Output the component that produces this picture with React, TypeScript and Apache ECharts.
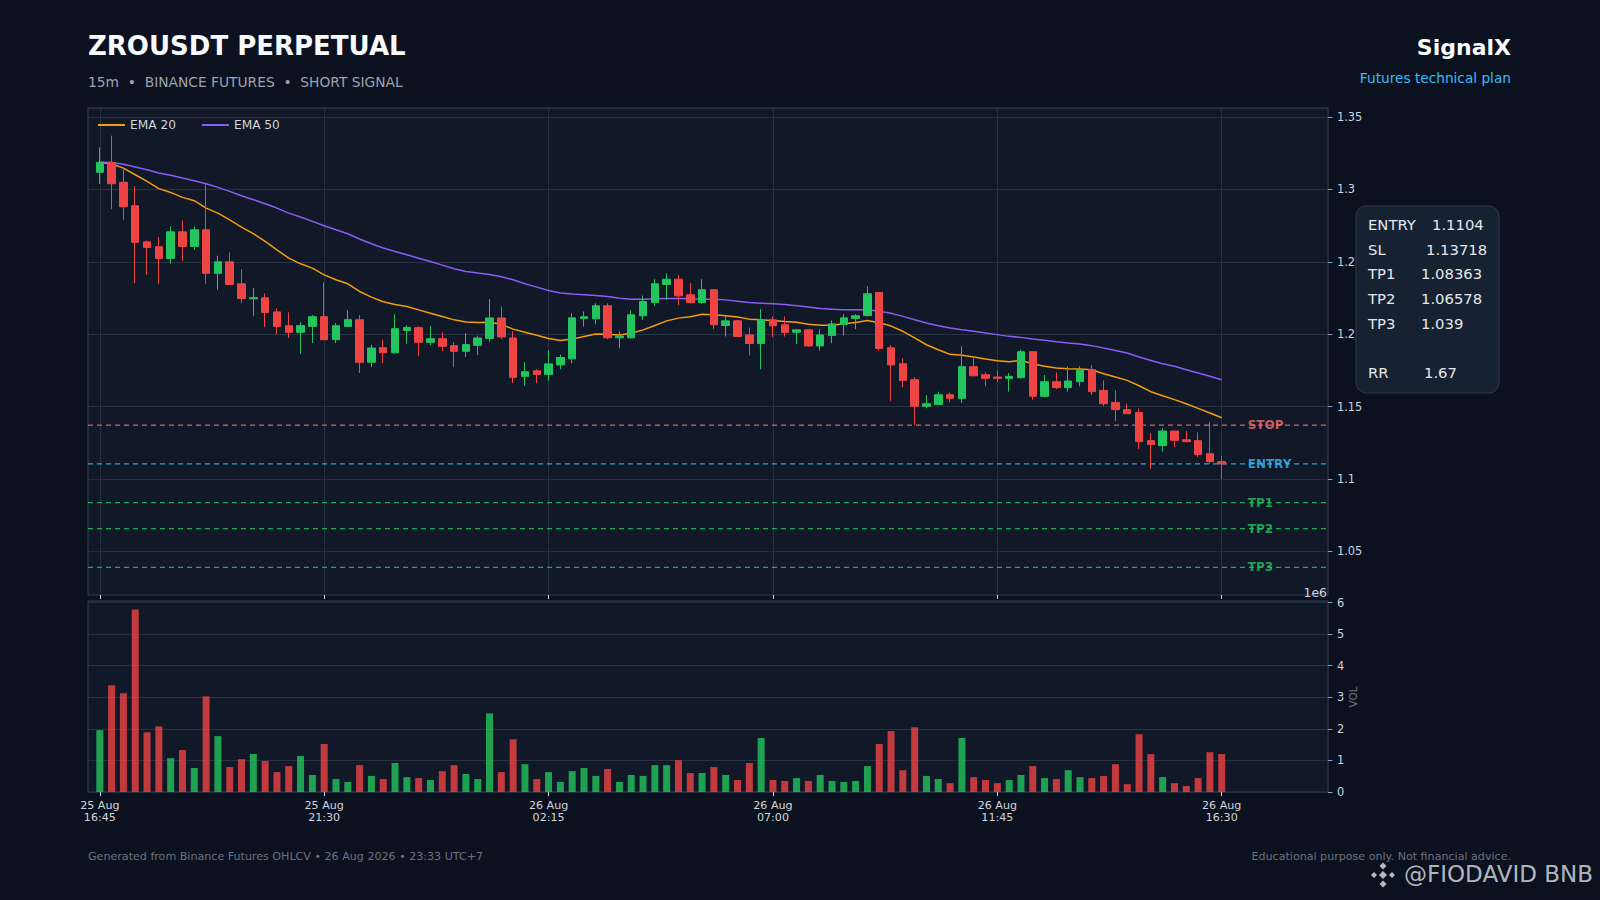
import React, { useEffect, useRef } from "react";
import * as echarts from "echarts";

const FONT = "DejaVu Sans, Verdana, sans-serif";
const BG = "#0b111e";
const PANEL = "#111827";
const BORDER = "#334155";
const GRIDC = "#263142";
const TICKC = "#cbd5e1";
const LABELC = "#cbd5e1";
const UP = "#22c55e";
const DOWN = "#ef4444";

// OHLC per 15m candle (index 0 = 25 Aug 16:45)
const opens = [
  1.3118, 1.3187, 1.3049, 1.2887, 1.2638, 1.2604, 1.2523, 1.2707, 1.2606, 1.2721,
  1.2420, 1.2500, 1.2348, 1.2244, 1.2251, 1.2154, 1.2059, 1.2013, 1.2054, 1.2121,
  1.1962, 1.2054, 1.2100, 1.1806, 1.1907, 1.1872, 1.2026, 1.2045, 1.1944, 1.1969,
  1.1921, 1.1882, 1.1923, 1.1971, 1.2112, 1.1974, 1.1709, 1.1747, 1.1721, 1.1788,
  1.1830, 1.2108, 1.2106, 1.2196, 1.1975, 1.1975, 1.2127, 1.2219, 1.2343, 1.2380,
  1.2272, 1.2219, 1.2307, 1.2060, 1.2092, 1.1995, 1.1936, 1.2099, 1.2065, 1.2014,
  1.2030, 1.1919, 1.1991, 1.2067, 1.2108, 1.2129, 1.2288, 1.1906, 1.1796, 1.1686,
  1.1502, 1.1515, 1.1582, 1.1557, 1.1776, 1.1720, 1.1704, 1.1695, 1.1700, 1.1879,
  1.1571, 1.1672, 1.1631, 1.1672, 1.1755, 1.1612, 1.1529, 1.1479, 1.1460, 1.1265,
  1.1230, 1.1331, 1.1271, 1.1265, 1.1175, 1.1120,
];
const closes = [
  1.3187, 1.3039, 1.2880, 1.2634, 1.2599, 1.2523, 1.2707, 1.2606, 1.2721, 1.2420,
  1.2500, 1.2343, 1.2247, 1.2253, 1.2150, 1.2053, 1.2013, 1.2059, 1.2121, 1.1962,
  1.2059, 1.2100, 1.1806, 1.1905, 1.1872, 1.2038, 1.2047, 1.1944, 1.1969, 1.1916,
  1.1882, 1.1928, 1.1974, 1.2112, 1.1981, 1.1702, 1.1741, 1.1721, 1.1795, 1.1839,
  1.2113, 1.2120, 1.2196, 1.1975, 1.1986, 1.2134, 1.2226, 1.2348, 1.2380, 1.2265,
  1.2219, 1.2307, 1.2065, 1.2092, 1.1984, 1.1936, 1.2099, 1.2058, 1.2012, 1.2030,
  1.1919, 1.1995, 1.2071, 1.2113, 1.2127, 1.2279, 1.1901, 1.1788, 1.1681, 1.1502,
  1.1520, 1.1582, 1.1557, 1.1776, 1.1713, 1.1695, 1.1695, 1.1709, 1.1879, 1.1571,
  1.1672, 1.1631, 1.1677, 1.1755, 1.1603, 1.1520, 1.1479, 1.1451, 1.1258, 1.1239,
  1.1331, 1.1267, 1.1258, 1.1170, 1.1120, 1.1104,
];
const lows = [
  1.3037, 1.2864, 1.2790, 1.2353, 1.2410, 1.2348, 1.2486, 1.2505, 1.2583, 1.2348,
  1.2307, 1.2339, 1.2214, 1.2127, 1.2049, 1.2000, 1.1974, 1.1865, 1.1939, 1.1960,
  1.1939, 1.2052, 1.1732, 1.1773, 1.1801, 1.1865, 1.1934, 1.1847, 1.1925, 1.1884,
  1.1773, 1.1842, 1.1856, 1.1948, 1.1967, 1.1663, 1.1644, 1.1661, 1.1678, 1.1758,
  1.1800, 1.2053, 1.2069, 1.1966, 1.1903, 1.1970, 1.2099, 1.2196, 1.2237, 1.2201,
  1.2210, 1.2210, 1.2035, 1.1984, 1.1980, 1.1853, 1.1758, 1.1980, 1.1984, 1.1931,
  1.1915, 1.1887, 1.1938, 1.1991, 1.2035, 1.2122, 1.1885, 1.1538, 1.1635, 1.1373,
  1.1488, 1.1511, 1.1529, 1.1525, 1.1709, 1.1640, 1.1667, 1.1603, 1.1695, 1.1548,
  1.1561, 1.1621, 1.1603, 1.1640, 1.1580, 1.1502, 1.1400, 1.1449, 1.1207, 1.1069,
  1.1189, 1.1221, 1.1253, 1.1152, 1.1106, 1.1000,
];
const highs = [
  1.3290, 1.3371, 1.3147, 1.3021, 1.2647, 1.2671, 1.2744, 1.2786, 1.2744, 1.3039,
  1.2542, 1.2565, 1.2449, 1.2318, 1.2283, 1.2177, 1.2151, 1.2082, 1.2132, 1.2358,
  1.2077, 1.2165, 1.2132, 1.1928, 1.1964, 1.2137, 1.2063, 1.2054, 1.2054, 1.2013,
  1.1944, 1.2008, 1.1990, 1.2243, 1.2192, 1.2020, 1.1806, 1.1758, 1.1887, 1.1859,
  1.2145, 1.2157, 1.2214, 1.2214, 1.2019, 1.2164, 1.2267, 1.2380, 1.2421, 1.2408,
  1.2353, 1.2380, 1.2311, 1.2122, 1.2099, 1.2046, 1.2173, 1.2122, 1.2122, 1.2035,
  1.2032, 1.2035, 1.2095, 1.2138, 1.2138, 1.2330, 1.2290, 1.1926, 1.1833, 1.1704,
  1.1580, 1.1603, 1.1598, 1.1916, 1.1833, 1.1736, 1.1750, 1.1732, 1.1893, 1.1884,
  1.1718, 1.1736, 1.1778, 1.1778, 1.1787, 1.1681, 1.1612, 1.1520, 1.1488, 1.1318,
  1.1350, 1.1333, 1.1331, 1.1322, 1.1396, 1.1161,
];
// volume in millions (axis offset 1e6)
const volumes = [
  1.96, 3.38, 3.13, 5.78, 1.89, 2.08, 1.07, 1.33, 0.76, 3.03,
  1.77, 0.79, 1.04, 1.20, 0.98, 0.63, 0.82, 1.14, 0.54, 1.52,
  0.41, 0.32, 0.85, 0.51, 0.41, 0.92, 0.47, 0.44, 0.38, 0.66,
  0.85, 0.57, 0.41, 2.49, 0.63, 1.67, 0.88, 0.41, 0.63, 0.32,
  0.66, 0.76, 0.51, 0.73, 0.32, 0.54, 0.51, 0.85, 0.85, 1.01,
  0.60, 0.60, 0.79, 0.54, 0.38, 0.92, 1.71, 0.38, 0.35, 0.44,
  0.35, 0.54, 0.35, 0.32, 0.35, 0.82, 1.52, 1.93, 0.69, 2.05,
  0.51, 0.41, 0.28, 1.71, 0.47, 0.38, 0.28, 0.38, 0.54, 0.82,
  0.44, 0.41, 0.69, 0.47, 0.44, 0.51, 0.88, 0.25, 1.83, 1.20,
  0.47, 0.28, 0.19, 0.44, 1.26, 1.20,
];
const ema20 = [
  1.3186, 1.3177, 1.3147, 1.3101, 1.3055, 1.3005, 1.2979, 1.2945, 1.2922, 1.2871,
  1.2836, 1.2790, 1.2740, 1.2694, 1.2641, 1.2583, 1.2525, 1.2486, 1.2456, 1.2410,
  1.2376, 1.2348, 1.2295, 1.2256, 1.2224, 1.2205, 1.2191, 1.2168, 1.2145, 1.2122,
  1.2099, 1.2085, 1.2081, 1.2083, 1.2068, 1.2035, 1.2014, 1.1993, 1.1970, 1.1956,
  1.1966, 1.1984, 1.2002, 1.2000, 1.1995, 1.2007, 1.2030, 1.2060, 1.2092, 1.2111,
  1.2120, 1.2138, 1.2134, 1.2127, 1.2118, 1.2104, 1.2099, 1.2095, 1.2088, 1.2083,
  1.2069, 1.2062, 1.2062, 1.2072, 1.2081, 1.2095, 1.2079, 1.2056, 1.2020, 1.1974,
  1.1927, 1.1893, 1.1861, 1.1854, 1.1842, 1.1829, 1.1817, 1.1810, 1.1819, 1.1796,
  1.1778, 1.1766, 1.1762, 1.1759, 1.1755, 1.1727, 1.1704, 1.1681, 1.1644, 1.1603,
  1.1575, 1.1548, 1.1520, 1.1488, 1.1456, 1.1423,
];
const ema50 = [
  1.3187, 1.3186, 1.3173, 1.3154, 1.3136, 1.3113, 1.3097, 1.3078, 1.3060, 1.3039,
  1.3014, 1.2986, 1.2956, 1.2929, 1.2901, 1.2871, 1.2836, 1.2809, 1.2779, 1.2749,
  1.2721, 1.2694, 1.2657, 1.2625, 1.2595, 1.2571, 1.2548, 1.2525, 1.2502, 1.2477,
  1.2452, 1.2433, 1.2422, 1.2412, 1.2397, 1.2376, 1.2348, 1.2325, 1.2302, 1.2284,
  1.2277, 1.2272, 1.2267, 1.2260, 1.2249, 1.2242, 1.2242, 1.2244, 1.2247, 1.2247,
  1.2244, 1.2242, 1.2242, 1.2237, 1.2228, 1.2219, 1.2214, 1.2210, 1.2205, 1.2196,
  1.2187, 1.2177, 1.2173, 1.2168, 1.2168, 1.2168, 1.2159, 1.2144, 1.2123, 1.2100,
  1.2077, 1.2059, 1.2043, 1.2031, 1.2020, 1.2008, 1.1997, 1.1985, 1.1978, 1.1967,
  1.1958, 1.1948, 1.1939, 1.1932, 1.1921, 1.1904, 1.1888, 1.1870, 1.1842, 1.1819,
  1.1796, 1.1778, 1.1755, 1.1732, 1.1709, 1.1686,
];

const xTickIdx = [0, 19, 38, 57, 76, 95];
const xTickLabels = [
  "25 Aug\n16:45",
  "25 Aug\n21:30",
  "26 Aug\n02:15",
  "26 Aug\n07:00",
  "26 Aug\n11:45",
  "26 Aug\n16:30",
];
const priceTicks = [1.05, 1.1, 1.15, 1.2, 1.25, 1.3, 1.35];
const volTicks = [0, 1, 2, 3, 4, 5, 6];

const levelNames = ["STOP", "ENTRY", "TP1", "TP2", "TP3"];
const levelValues = [1.13718, 1.1104, 1.08363, 1.06578, 1.039];
const levelColors = ["#f87171", "#38bdf8", "#22c55e", "#22c55e", "#22c55e"];

const planLabels = ["ENTRY", "SL", "TP1", "TP2", "TP3", "RR"];
const planValues = ["1.1104", "1.13718", "1.08363", "1.06578", "1.039", "1.67"];
const planRows = [0, 1, 2, 3, 4, 6];
const planValueX = [1432, 1426, 1421, 1421, 1421, 1424];

const X_MIN = -1;
const X_MAX = 104;

export default function App() {
  const ref = useRef<HTMLDivElement>(null);

  useEffect(() => {
    if (!ref.current) return;
    const chart = echarts.init(ref.current, undefined, { renderer: "svg" });

    const n = opens.length;
    const candles = opens.map((o, i) => [i, o, closes[i], lows[i], highs[i]]);
    const volData = volumes.map((v, i) => ({
      value: [i, v],
      itemStyle: { color: closes[i] >= opens[i] ? UP : DOWN, opacity: 0.8 },
    }));
    const labelX = n + 1.2;

    const graphicEls: any[] = [
      {
        type: "text",
        x: 88,
        y: 46,
        style: {
          text: "ZROUSDT PERPETUAL",
          fill: "#f8fafc",
          font: `bold 26px ${FONT}`,
          align: "left",
          verticalAlign: "middle",
        },
      },
      {
        type: "text",
        x: 88,
        y: 81.5,
        style: {
          text: "15m  •  BINANCE FUTURES  •  SHORT SIGNAL",
          fill: "#9ca3af",
          font: `13.8px ${FONT}`,
          align: "left",
          verticalAlign: "middle",
        },
      },
      {
        type: "text",
        x: 1511,
        y: 47,
        style: {
          text: "SignalX",
          fill: "#f8fafc",
          font: `bold 22px ${FONT}`,
          align: "right",
          verticalAlign: "middle",
        },
      },
      {
        type: "text",
        x: 1511,
        y: 78,
        style: {
          text: "Futures technical plan",
          fill: "#38bdf8",
          font: `13.7px ${FONT}`,
          align: "right",
          verticalAlign: "middle",
        },
      },
      {
        type: "text",
        x: 1327,
        y: 592,
        style: {
          text: "1e6",
          fill: LABELC,
          font: `12.4px ${FONT}`,
          align: "right",
          verticalAlign: "middle",
        },
      },
      {
        type: "text",
        x: 1353,
        y: 697,
        rotation: Math.PI / 2,
        style: {
          text: "VOL",
          fill: "#6b7280",
          font: `10.4px ${FONT}`,
          align: "center",
          verticalAlign: "middle",
        },
      },
      {
        type: "text",
        x: 88,
        y: 856,
        style: {
          text: "Generated from Binance Futures OHLCV • 26 Aug 2026 • 23:33 UTC+7",
          fill: "#6b7280",
          font: `11.1px ${FONT}`,
          align: "left",
          verticalAlign: "middle",
        },
      },
      {
        type: "text",
        x: 1511,
        y: 856,
        style: {
          text: "Educational purpose only. Not financial advice.",
          fill: "#6b7280",
          font: `11.1px ${FONT}`,
          align: "right",
          verticalAlign: "middle",
        },
      },
      {
        type: "rect",
        z: 100,
        shape: { x: 1356, y: 206, width: 143, height: 187, r: 10 },
        style: { fill: "#162131", stroke: "#2e3b4e", lineWidth: 1 },
      },
    ];

    planLabels.forEach((lab, k) => {
      const y = 224.5 + planRows[k] * 24.7;
      graphicEls.push({
        type: "text",
        z: 101,
        x: 1368,
        y,
        style: {
          text: lab,
          fill: "#e5e7eb",
          font: `14.8px ${FONT}`,
          align: "left",
          verticalAlign: "middle",
        },
      });
      graphicEls.push({
        type: "text",
        z: 101,
        x: planValueX[k],
        y,
        style: {
          text: planValues[k],
          fill: "#e5e7eb",
          font: `14.8px ${FONT}`,
          align: "left",
          verticalAlign: "middle",
        },
      });
    });

    // watermark: logo + handle
    const wm = "rgba(222,226,232,0.8)";
    const diamond = (cx: number, cy: number, r: number) => ({
      type: "polygon",
      z: 110,
      shape: { points: [[cx, cy - r], [cx + r, cy], [cx, cy + r], [cx - r, cy]] },
      style: { fill: wm },
    });
    graphicEls.push(diamond(1383, 875, 4));
    graphicEls.push(diamond(1374, 875, 3));
    graphicEls.push(diamond(1392, 875, 3));
    graphicEls.push(diamond(1383, 866, 3.5));
    graphicEls.push(diamond(1383, 884, 3.5));
    graphicEls.push({
      type: "text",
      z: 110,
      x: 1404,
      y: 874,
      style: {
        text: "@FIODAVID BNB",
        fill: wm,
        font: `23px ${FONT}`,
        align: "left",
        verticalAlign: "middle",
      },
    });

    const xAxisCommon = {
      type: "value",
      min: X_MIN,
      max: X_MAX,
      axisLine: { show: false, onZero: false },
    };
    const yAxisCommon = {
      type: "value",
      position: "right",
      axisLine: { show: false, onZero: false },
    };

    const levelSeries = levelValues.map((v, i) => ({
      name: levelNames[i] + " level",
      type: "line",
      xAxisIndex: 0,
      yAxisIndex: 0,
      data: [
        [X_MIN, v],
        [X_MAX, v],
      ],
      symbol: "none",
      showSymbol: false,
      silent: true,
      lineStyle: { color: levelColors[i], type: [5, 4], width: 1.2, opacity: 0.85 },
      z: 1,
    }));

    const option: any = {
      animation: false,
      backgroundColor: BG,
      textStyle: { fontFamily: FONT },
      legend: {
        left: 93,
        top: 114,
        icon: "rect",
        itemWidth: 27,
        itemHeight: 2,
        itemGap: 26,
        data: ["EMA 20", "EMA 50"],
        textStyle: { color: "#d1d5db", fontSize: 12.2, fontFamily: FONT },
      },
      grid: [
        {
          left: 88,
          right: 272,
          top: 108,
          height: 487,
          show: true,
          backgroundColor: PANEL,
          borderColor: BORDER,
          borderWidth: 1,
        },
        {
          left: 88,
          right: 272,
          top: 601,
          height: 191,
          show: true,
          backgroundColor: PANEL,
          borderColor: BORDER,
          borderWidth: 1,
        },
      ],
      xAxis: [
        {
          ...xAxisCommon,
          gridIndex: 0,
          axisTick: { show: true, customValues: xTickIdx, length: 4, lineStyle: { color: TICKC } },
          axisLabel: { show: false, customValues: xTickIdx },
          splitLine: { show: true, lineStyle: { color: GRIDC, width: 1 } },
        },
        {
          ...xAxisCommon,
          gridIndex: 1,
          axisTick: { show: true, customValues: xTickIdx, length: 4, lineStyle: { color: TICKC } },
          axisLabel: {
            customValues: xTickIdx,
            formatter: (v: number) => {
              const k = xTickIdx.indexOf(Math.round(v));
              return k >= 0 ? xTickLabels[k] : "";
            },
            color: "#d1d5db",
            fontSize: 11.1,
            lineHeight: 12,
            margin: 7,
            fontFamily: FONT,
          },
          splitLine: { show: false },
        },
      ],
      yAxis: [
        {
          ...yAxisCommon,
          gridIndex: 0,
          min: 1.0199,
          max: 1.3562,
          axisTick: { show: true, customValues: priceTicks, length: 4.5, lineStyle: { color: "#94a3b8" } },
          axisLabel: {
            customValues: priceTicks,
            formatter: (v: number) => String(Number(v.toFixed(2))),
            color: LABELC,
            fontSize: 11.4,
            margin: 9,
            fontFamily: FONT,
          },
          splitLine: { show: true, lineStyle: { color: GRIDC, width: 1 } },
        },
        {
          ...yAxisCommon,
          gridIndex: 1,
          min: 0,
          max: 6.05,
          axisTick: { show: true, customValues: volTicks, length: 4.5, lineStyle: { color: "#94a3b8" } },
          axisLabel: {
            customValues: volTicks,
            formatter: (v: number) => String(Math.round(v)),
            color: LABELC,
            fontSize: 11.4,
            margin: 9,
            fontFamily: FONT,
          },
          splitLine: { show: true, lineStyle: { color: GRIDC, width: 1 } },
        },
      ],
      series: [
        ...levelSeries,
        {
          name: "EMA 20",
          type: "line",
          xAxisIndex: 0,
          yAxisIndex: 0,
          data: ema20.map((v, i) => [i, v]),
          symbol: "none",
          showSymbol: false,
          lineStyle: { color: "#f59e0b", width: 1.5 },
          itemStyle: { color: "#f59e0b" },
          z: 2,
        },
        {
          name: "EMA 50",
          type: "line",
          xAxisIndex: 0,
          yAxisIndex: 0,
          data: ema50.map((v, i) => [i, v]),
          symbol: "none",
          showSymbol: false,
          lineStyle: { color: "#8b5cf6", width: 1.5 },
          itemStyle: { color: "#8b5cf6" },
          z: 2,
        },
        {
          name: "Price",
          type: "candlestick",
          xAxisIndex: 0,
          yAxisIndex: 0,
          data: candles,
          encode: { x: 0, y: [1, 2, 3, 4] },
          barWidth: 8,
          itemStyle: {
            color: UP,
            color0: DOWN,
            borderColor: UP,
            borderColor0: DOWN,
            borderWidth: 1,
          },
          z: 3,
        },
        {
          name: "Levels",
          type: "scatter",
          xAxisIndex: 0,
          yAxisIndex: 0,
          symbolSize: 0,
          z: 4,
          data: levelValues.map((v, i) => ({
            name: levelNames[i],
            value: [labelX, v],
            label: { color: levelColors[i] },
          })),
          label: {
            show: true,
            position: "right",
            distance: 0,
            formatter: "{b}",
            fontWeight: "bold",
            fontSize: 12,
            fontFamily: FONT,
          },
        },
        {
          name: "Volume",
          type: "bar",
          xAxisIndex: 1,
          yAxisIndex: 1,
          data: volData,
          barWidth: 7,
        },
      ],
      graphic: { elements: graphicEls },
    };

    chart.setOption(option);
    return () => chart.dispose();
  }, []);

  return (
    <div
      ref={ref}
      style={{ position: "fixed", left: 0, top: 0, width: 1600, height: 900, background: BG }}
    />
  );
}
